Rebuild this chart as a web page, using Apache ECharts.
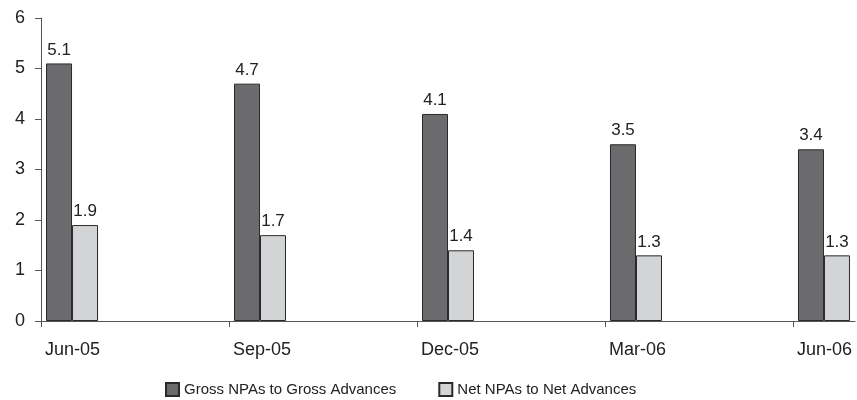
<!DOCTYPE html>
<html lang="en">
<head>
  <meta charset="UTF-8">
  <title>NPAs</title>
  <style>
    body, html { margin: 0; padding: 0; background: #fff; }
    #main { width: 857px; height: 400px; }
  </style>
</head>
<body>
  <div id="main"></div>
  <script src="https://cdn.jsdelivr.net/npm/echarts@6/dist/echarts.min.js"></script>
  <script>
    var categories = ['Jun-05', 'Sep-05', 'Dec-05', 'Mar-06', 'Jun-06'];
    var grossNpa = [5.1, 4.7, 4.1, 3.5, 3.4];
    var netNpa = [1.9, 1.7, 1.4, 1.3, 1.3];
    var yTicks = [0, 1, 2, 3, 4, 5, 6];

    // bars sit just right of each tick, so the group centre is shifted a bit
    var groupShift = 0.165;
    var tickPos = categories.map(function (c, i) { return i; });

    function toPoints(arr) {
      return arr.map(function (v, i) { return [i + groupShift, v]; });
    }

    var font = '"Liberation Sans", Arial, sans-serif';
    var axisColor = '#555';

    var chart = echarts.init(document.getElementById('main'));
    var option = {
      animation: false,
      textStyle: { fontFamily: font },
      grid: { left: 41, right: 2, top: 18, bottom: 79, containLabel: false },
      legend: {
        top: 377,
        left: 160,
        icon: 'rect',
        itemWidth: 13,
        itemHeight: 13,
        itemGap: 42,
        selectedMode: false,
        textStyle: { color: '#222', fontSize: 15, fontFamily: font },
        data: ['Gross NPAs to Gross Advances', 'Net NPAs to Net Advances']
      },
      xAxis: {
        type: 'value',
        min: 0,
        max: 4.33,
        interval: 1,
        splitLine: { show: false },
        axisLine: { show: true, lineStyle: { color: axisColor, width: 1 } },
        axisTick: { show: true, length: 6, customValues: tickPos, lineStyle: { color: axisColor } },
        axisLabel: {
          customValues: tickPos,
          align: 'left',
          padding: [0, 0, 0, 4],
          margin: 20,
          color: '#222',
          fontSize: 18,
          fontFamily: font,
          formatter: function (v) { return categories[Math.round(v)] || ''; }
        }
      },
      yAxis: {
        type: 'value',
        min: yTicks[0],
        max: yTicks[yTicks.length - 1],
        interval: 1,
        splitLine: { show: false },
        axisLine: { show: true, lineStyle: { color: axisColor, width: 1 } },
        axisTick: { show: true, length: 6, lineStyle: { color: axisColor } },
        axisLabel: { color: '#222', fontSize: 18, margin: 16, fontFamily: font }
      },
      series: [
        {
          name: 'Gross NPAs to Gross Advances',
          type: 'bar',
          barWidth: 26,
          barGap: '0%',
          data: toPoints(grossNpa),
          itemStyle: { color: '#6b6b6d', borderColor: '#2a2a2a', borderWidth: 1 },
          label: { show: true, position: 'top', distance: 5, color: '#222', fontSize: 17, fontFamily: font,
                   formatter: function (p) { return p.value[1].toFixed(1); } }
        },
        {
          name: 'Net NPAs to Net Advances',
          type: 'bar',
          barWidth: 26,
          barGap: '0%',
          data: toPoints(netNpa),
          itemStyle: { color: '#d3d4d6', borderColor: '#2a2a2a', borderWidth: 1 },
          label: { show: true, position: 'top', distance: 5, color: '#222', fontSize: 17, fontFamily: font,
                   formatter: function (p) { return p.value[1].toFixed(1); } }
        }
      ]
    };
    chart.setOption(option);
  </script>
</body>
</html>
